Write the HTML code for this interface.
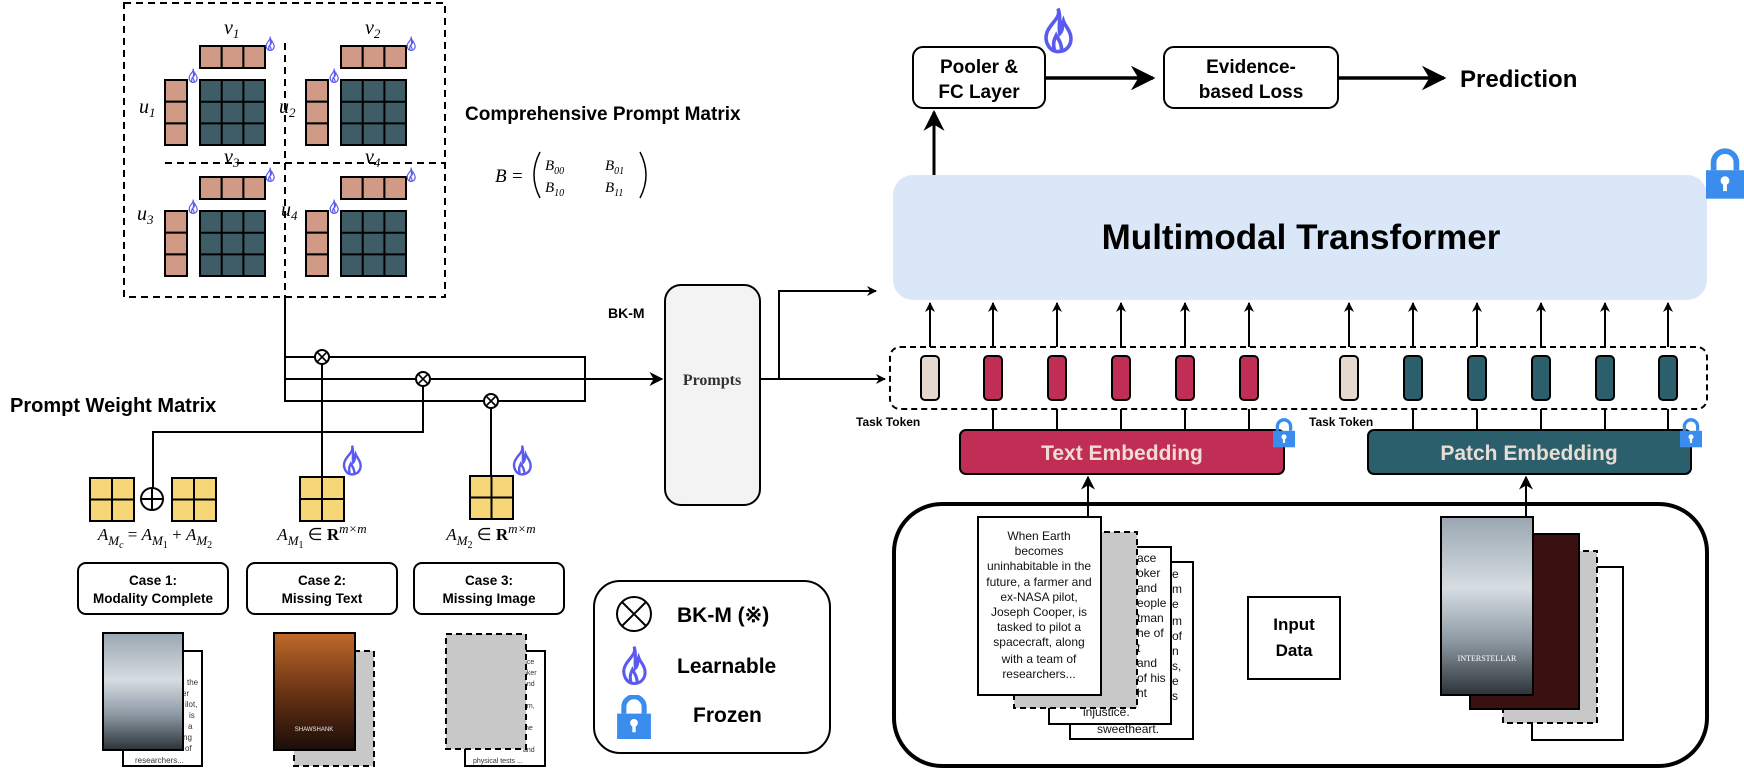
<!DOCTYPE html>
<html><head><meta charset="utf-8">
<style>
html,body{margin:0;padding:0;background:#fff;}
svg{display:block;}
text{font-family:"Liberation Sans",sans-serif;}
.b{font-weight:bold;}
text.s{font-family:"Liberation Serif",serif;}
text.m{font-family:"Liberation Serif",serif;font-style:italic;}
</style></head>
<body>
<svg width="1744" height="769" viewBox="0 0 1744 769" xmlns="http://www.w3.org/2000/svg">
<defs>
<symbol id="flame" viewBox="0 0 20 26">
<path d="M10 1 C12 6 6 9 4 14 C2 19 5 25 10 25 C15 25 18 21 17 16 C16 12 14 11 13 8 C12 11 13 13 11 15 C10 11 12 6 10 1 Z M8 24 C7 20 8 18 9 16 C10 18 12 20 12 24" fill="none" stroke="#5a5af0" stroke-width="2"/>
</symbol>
<symbol id="lock" viewBox="0 0 20 26">
<path d="M4 11 V7 A6 6 0 0 1 16 7 V11" fill="none" stroke="#3b8ded" stroke-width="3"/>
<rect x="0" y="11" width="20" height="15" fill="#3b8ded"/>
<circle cx="10" cy="16.5" r="2.3" fill="#fff"/>
<rect x="9" y="17" width="2" height="5" fill="#fff"/>
</symbol>
<marker id="ar" viewBox="0 0 10 10" refX="9" refY="5" markerWidth="7" markerHeight="7" orient="auto">
<path d="M0 0 L10 5 L0 10 L3 5 Z" fill="#000"/>
</marker>
<marker id="ars" viewBox="0 0 10 10" refX="9" refY="5" markerWidth="5" markerHeight="5" orient="auto">
<path d="M0 0 L10 5 L0 10 L3 5 Z" fill="#000"/>
</marker>
<linearGradient id="inter" x1="0" y1="0" x2="0" y2="1">
<stop offset="0" stop-color="#9aa6b0"/><stop offset="0.4" stop-color="#d6dde2"/><stop offset="0.7" stop-color="#8c98a2"/><stop offset="1" stop-color="#2c3238"/>
</linearGradient>
<linearGradient id="shaw" x1="0" y1="0" x2="0" y2="1">
<stop offset="0" stop-color="#c06a2a"/><stop offset="0.5" stop-color="#6b3415"/><stop offset="1" stop-color="#1a0d08"/>
</linearGradient>
</defs>

<!-- Comprehensive prompt matrix dashed box -->
<rect x="124" y="3" width="321" height="294" fill="none" stroke="#000" stroke-width="2" stroke-dasharray="7,5"/>
<line x1="285" y1="43" x2="285" y2="297" stroke="#000" stroke-width="2" stroke-dasharray="7,5"/>
<line x1="165" y1="163" x2="445" y2="163" stroke="#000" stroke-width="2" stroke-dasharray="7,5"/>

<g id="q">
<g stroke="#000" stroke-width="2">
<rect x="200" y="46" width="21.7" height="22" fill="#d09a86"/><rect x="221.7" y="46" width="21.7" height="22" fill="#d09a86"/><rect x="243.4" y="46" width="21.6" height="22" fill="#d09a86"/>
<rect x="165" y="80" width="22" height="21.7" fill="#d09a86"/><rect x="165" y="101.7" width="22" height="21.7" fill="#d09a86"/><rect x="165" y="123.4" width="22" height="21.6" fill="#d09a86"/>
<rect x="200" y="80" width="65" height="65" fill="#3f5d66"/>
<line x1="221.7" y1="80" x2="221.7" y2="145"/><line x1="243.4" y1="80" x2="243.4" y2="145"/>
<line x1="200" y1="101.7" x2="265" y2="101.7"/><line x1="200" y1="123.4" x2="265" y2="123.4"/>
</g>
<use href="#flame" x="264" y="36" width="12" height="15"/>
<use href="#flame" x="187" y="68" width="12" height="15"/>
</g>
<use href="#q" x="141" y="0"/>
<use href="#q" x="0" y="131"/>
<use href="#q" x="141" y="131"/>
<g>
<text class="m" font-size="20" x="224" y="34">v<tspan font-size="13" dy="4">1</tspan></text>
<text class="m" font-size="20" x="365" y="34">v<tspan font-size="13" dy="4">2</tspan></text>
<text class="m" font-size="20" x="224" y="163">v<tspan font-size="13" dy="4">3</tspan></text>
<text class="m" font-size="20" x="365" y="163">v<tspan font-size="13" dy="4">4</tspan></text>
<text class="m" font-size="20" x="139" y="113">u<tspan font-size="13" dy="4">1</tspan></text>
<text class="m" font-size="20" x="279" y="113">u<tspan font-size="13" dy="4">2</tspan></text>
<text class="m" font-size="20" x="137" y="220">u<tspan font-size="13" dy="4">3</tspan></text>
<text class="m" font-size="20" x="281" y="216">u<tspan font-size="13" dy="4">4</tspan></text>
</g>

<text x="465" y="120" class="b" font-size="19">Comprehensive Prompt Matrix</text>
<text x="495" y="182" class="m" font-size="19">B</text>
<text x="512" y="182" class="s" font-size="19">=</text>
<path d="M540 152 Q528 175 540 198" fill="none" stroke="#000" stroke-width="1.5"/>
<path d="M640 152 Q652 175 640 198" fill="none" stroke="#000" stroke-width="1.5"/>
<text x="545" y="170" class="m" font-size="15">B<tspan font-size="10" dy="4">00</tspan></text>
<text x="605" y="170" class="m" font-size="15">B<tspan font-size="10" dy="4">01</tspan></text>
<text x="545" y="192" class="m" font-size="15">B<tspan font-size="10" dy="4">10</tspan></text>
<text x="605" y="192" class="m" font-size="15">B<tspan font-size="10" dy="4">11</tspan></text>

<!-- BK-M lines -->
<g stroke="#000" stroke-width="2" fill="none">
<line x1="285" y1="297" x2="285" y2="401"/>
<rect x="285" y="357" width="300" height="44"/>
<line x1="285" y1="379" x2="662" y2="379" marker-end="url(#ar)"/>
<line x1="322" y1="357" x2="322" y2="477"/>
<polyline points="423,379 423,432 153,432 153,488"/>
<line x1="491" y1="401" x2="491" y2="476"/>
</g>
<g stroke="#000" stroke-width="2" fill="#fff">
<circle cx="322" cy="357" r="7"/><circle cx="423" cy="379" r="7"/><circle cx="491" cy="401" r="7"/>
</g>
<g stroke="#000" stroke-width="1.6">
<path d="M317 352 L327 362 M327 352 L317 362"/><path d="M418 374 L428 384 M428 374 L418 384"/><path d="M486 396 L496 406 M496 396 L486 406"/>
</g>
<text x="608" y="318" class="b" font-size="14">BK-M</text>

<!-- Prompts box -->
<rect x="665" y="285" width="95" height="220" rx="16" fill="#f3f3f3" stroke="#000" stroke-width="2"/>
<text x="712" y="385" text-anchor="middle" class="s" font-weight="bold" font-size="16" fill="#333">Prompts</text>
<g stroke="#000" stroke-width="2" fill="none">
<polyline points="760,379 779,379 779,291 876,291" marker-end="url(#ars)"/>
<line x1="779" y1="379" x2="885" y2="379" marker-end="url(#ars)"/>
</g>

<!-- Prompt weight matrix -->
<text x="10" y="412" class="b" font-size="20">Prompt Weight Matrix</text>
<g stroke="#000" stroke-width="2" fill="#f6d677">
<rect x="90" y="478" width="44" height="43"/><line x1="112" y1="478" x2="112" y2="521"/><line x1="90" y1="499.5" x2="134" y2="499.5"/>
<rect x="172" y="478" width="44" height="43"/><line x1="194" y1="478" x2="194" y2="521"/><line x1="172" y1="499.5" x2="216" y2="499.5"/>
<rect x="300" y="477" width="44" height="44"/><line x1="322" y1="477" x2="322" y2="521"/><line x1="300" y1="499" x2="344" y2="499"/>
<rect x="470" y="476" width="43" height="43"/><line x1="491.5" y1="476" x2="491.5" y2="519"/><line x1="470" y1="497.5" x2="513" y2="497.5"/>
</g>
<circle cx="152" cy="499" r="11" fill="#fff" stroke="#000" stroke-width="2"/>
<path d="M141 499 H163 M152 488 V510" stroke="#000" stroke-width="2"/>
<use href="#flame" x="340" y="444" width="24" height="32"/>
<use href="#flame" x="510" y="444" width="24" height="32"/>
<text x="155" y="540" text-anchor="middle" class="s" font-size="17"><tspan font-style="italic">A</tspan><tspan font-style="italic" font-size="13" dy="5">M</tspan><tspan font-style="italic" font-size="10" dy="3">c</tspan><tspan dy="-8"> = </tspan><tspan font-style="italic">A</tspan><tspan font-style="italic" font-size="13" dy="5">M</tspan><tspan font-size="10" dy="3">1</tspan><tspan dy="-8"> + </tspan><tspan font-style="italic">A</tspan><tspan font-style="italic" font-size="13" dy="5">M</tspan><tspan font-size="10" dy="3">2</tspan></text>
<text x="322" y="540" text-anchor="middle" class="s" font-size="17"><tspan font-style="italic">A</tspan><tspan font-style="italic" font-size="13" dy="5">M</tspan><tspan font-size="10" dy="3">1</tspan><tspan dy="-8"> ∈ </tspan><tspan font-weight="bold">R</tspan><tspan font-style="italic" font-size="13" dy="-7">m×m</tspan></text>
<text x="491" y="540" text-anchor="middle" class="s" font-size="17"><tspan font-style="italic">A</tspan><tspan font-style="italic" font-size="13" dy="5">M</tspan><tspan font-size="10" dy="3">2</tspan><tspan dy="-8"> ∈ </tspan><tspan font-weight="bold">R</tspan><tspan font-style="italic" font-size="13" dy="-7">m×m</tspan></text>

<!-- Case boxes -->
<g fill="#fff" stroke="#000" stroke-width="2">
<rect x="78" y="563" width="150" height="51" rx="8"/>
<rect x="247" y="563" width="150" height="51" rx="8"/>
<rect x="414" y="563" width="150" height="51" rx="8"/>
</g>
<g class="b" font-size="13.5" text-anchor="middle">
<text x="153" y="585">Case 1:</text><text x="153" y="603">Modality Complete</text>
<text x="322" y="585">Case 2:</text><text x="322" y="603">Missing Text</text>
<text x="489" y="585">Case 3:</text><text x="489" y="603">Missing Image</text>
</g>

<!-- posters bottom-left -->
<rect x="123" y="651" width="79" height="115" fill="#fff" stroke="#000" stroke-width="2"/>
<g font-size="8" fill="#333"><text x="187" y="685">the</text><text x="182" y="696">er</text><text x="185" y="707">ilot,</text><text x="189" y="718">is</text><text x="188" y="729">a</text><text x="183" y="740">ng</text><text x="185" y="751">of</text><text x="135" y="763">researchers...</text></g>
<rect x="103" y="633" width="80" height="117" fill="url(#inter)" stroke="#000" stroke-width="2"/>
<rect x="294" y="651" width="80" height="115" fill="#c8c8c8" stroke="#000" stroke-width="2" stroke-dasharray="6,4"/>
<rect x="274" y="633" width="81" height="117" fill="url(#shaw)" stroke="#000" stroke-width="2"/>
<text x="314" y="731" font-size="6" fill="#eee" text-anchor="middle">SHAWSHANK</text>
<rect x="465" y="651" width="80" height="115" fill="#fff" stroke="#000" stroke-width="2"/>
<g font-size="7" fill="#333"><text x="523" y="664">ace</text><text x="523" y="675">pker</text><text x="523" y="686">and</text><text x="523" y="708">am,</text><text x="523" y="730">the</text><text x="523" y="752">and</text><text x="473" y="763">physical tests ...</text></g>
<rect x="446" y="634" width="80" height="115" fill="#c8c8c8" stroke="#000" stroke-width="2" stroke-dasharray="6,4"/>

<!-- Legend -->
<rect x="594" y="581" width="236" height="172" rx="26" fill="#fff" stroke="#000" stroke-width="2"/>
<circle cx="634" cy="614" r="17" fill="#fff" stroke="#000" stroke-width="2"/>
<path d="M622 602 L646 626 M646 602 L622 626" stroke="#000" stroke-width="2"/>
<text x="677" y="622" class="b" font-size="21">BK-M (※)</text>
<use href="#flame" x="618" y="645" width="32" height="40"/>
<text x="677" y="673" class="b" font-size="21">Learnable</text>
<use href="#lock" x="617" y="695" width="34" height="44"/>
<text x="693" y="722" class="b" font-size="21">Frozen</text>

<!-- Right: top flow -->
<rect x="913" y="47" width="132" height="61" rx="10" fill="#fff" stroke="#000" stroke-width="2"/>
<text x="979" y="73" text-anchor="middle" class="b" font-size="19">Pooler &amp;</text>
<text x="979" y="98" text-anchor="middle" class="b" font-size="19">FC Layer</text>
<use href="#flame" x="1040" y="5" width="36" height="50"/>
<line x1="1045" y1="78" x2="1153" y2="78" stroke="#000" stroke-width="3.5" marker-end="url(#ar)"/>
<rect x="1164" y="47" width="174" height="61" rx="10" fill="#fff" stroke="#000" stroke-width="2"/>
<text x="1251" y="73" text-anchor="middle" class="b" font-size="19">Evidence-</text>
<text x="1251" y="98" text-anchor="middle" class="b" font-size="19">based Loss</text>
<line x1="1338" y1="78" x2="1444" y2="78" stroke="#000" stroke-width="3.5" marker-end="url(#ar)"/>
<text x="1460" y="87" class="b" font-size="24">Prediction</text>
<line x1="934" y1="175" x2="934" y2="112" stroke="#000" stroke-width="3" marker-end="url(#ar)"/>

<!-- transformer -->
<rect x="893" y="175" width="814" height="125" rx="20" fill="#dae7f8"/>
<text x="1301" y="249" text-anchor="middle" class="b" font-size="35">Multimodal Transformer</text>
<use href="#lock" x="1706" y="138" width="38" height="72"/>

<!-- tokens -->
<rect x="890" y="347" width="817" height="62" rx="10" fill="none" stroke="#000" stroke-width="2" stroke-dasharray="6,4"/>
<g stroke="#000" stroke-width="2" marker-end="url(#ars)">
<line x1="930" y1="347" x2="930" y2="303"/><line x1="993" y1="347" x2="993" y2="303"/><line x1="1057" y1="347" x2="1057" y2="303"/><line x1="1121" y1="347" x2="1121" y2="303"/><line x1="1185" y1="347" x2="1185" y2="303"/><line x1="1249" y1="347" x2="1249" y2="303"/>
<line x1="1349" y1="347" x2="1349" y2="303"/><line x1="1413" y1="347" x2="1413" y2="303"/><line x1="1477" y1="347" x2="1477" y2="303"/><line x1="1541" y1="347" x2="1541" y2="303"/><line x1="1605" y1="347" x2="1605" y2="303"/><line x1="1668" y1="347" x2="1668" y2="303"/>
</g>
<g stroke="#000" stroke-width="2">
<rect x="921" y="356" width="18" height="44" rx="4" fill="#e5d9cf"/>
<rect x="984" y="356" width="18" height="44" rx="4" fill="#c12e55"/>
<rect x="1048" y="356" width="18" height="44" rx="4" fill="#c12e55"/>
<rect x="1112" y="356" width="18" height="44" rx="4" fill="#c12e55"/>
<rect x="1176" y="356" width="18" height="44" rx="4" fill="#c12e55"/>
<rect x="1240" y="356" width="18" height="44" rx="4" fill="#c12e55"/>
<rect x="1340" y="356" width="18" height="44" rx="4" fill="#e5d9cf"/>
<rect x="1404" y="356" width="18" height="44" rx="4" fill="#2a5f6b"/>
<rect x="1468" y="356" width="18" height="44" rx="4" fill="#2a5f6b"/>
<rect x="1532" y="356" width="18" height="44" rx="4" fill="#2a5f6b"/>
<rect x="1596" y="356" width="18" height="44" rx="4" fill="#2a5f6b"/>
<rect x="1659" y="356" width="18" height="44" rx="4" fill="#2a5f6b"/>
<line x1="993" y1="409" x2="993" y2="430"/><line x1="1057" y1="409" x2="1057" y2="430"/><line x1="1121" y1="409" x2="1121" y2="430"/><line x1="1185" y1="409" x2="1185" y2="430"/><line x1="1249" y1="409" x2="1249" y2="430"/>
<line x1="1413" y1="409" x2="1413" y2="430"/><line x1="1477" y1="409" x2="1477" y2="430"/><line x1="1541" y1="409" x2="1541" y2="430"/><line x1="1605" y1="409" x2="1605" y2="430"/><line x1="1668" y1="409" x2="1668" y2="430"/>
</g>
<text x="856" y="426" class="b" font-size="12">Task Token</text>
<text x="1309" y="426" class="b" font-size="12">Task Token</text>

<rect x="960" y="430" width="324" height="44" rx="6" fill="#c12e55" stroke="#000" stroke-width="2"/>
<text x="1122" y="460" text-anchor="middle" class="b" font-size="21" fill="#f0dcd6">Text Embedding</text>
<rect x="1368" y="430" width="323" height="44" rx="6" fill="#2a5f6b" stroke="#000" stroke-width="2"/>
<text x="1529" y="460" text-anchor="middle" class="b" font-size="21" fill="#e8ddd4">Patch Embedding</text>
<use href="#lock" x="1273" y="418" width="22" height="30"/>
<use href="#lock" x="1680" y="418" width="22" height="30"/>

<!-- input data -->
<rect x="894" y="504" width="813" height="262" rx="48" fill="none" stroke="#000" stroke-width="4"/>
<line x1="1088" y1="518" x2="1088" y2="477" stroke="#000" stroke-width="2" marker-end="url(#ar)"/>
<line x1="1526" y1="517" x2="1526" y2="477" stroke="#000" stroke-width="2" marker-end="url(#ar)"/>

<rect x="1070" y="562" width="123" height="177" fill="#fff" stroke="#000" stroke-width="2"/>
<g font-size="12" fill="#111"><text x="1172" y="578">e</text><text x="1172" y="593">m</text><text x="1172" y="608">e</text><text x="1172" y="625">m</text><text x="1172" y="640">of</text><text x="1172" y="655">n</text><text x="1172" y="670">s,</text><text x="1172" y="685">e</text><text x="1172" y="700">s</text><text x="1097" y="733">sweetheart.</text></g>
<rect x="1049" y="547" width="122" height="177" fill="#fff" stroke="#000" stroke-width="2"/>
<g font-size="12" fill="#111"><text x="1137" y="562">ace</text><text x="1137" y="577">oker</text><text x="1137" y="592">and</text><text x="1137" y="607">eople</text><text x="1137" y="622">tman</text><text x="1137" y="637">he of</text><text x="1137" y="652">t</text><text x="1137" y="667">and</text><text x="1137" y="682">of his</text><text x="1137" y="697">ht</text><text x="1083" y="716">injustice.</text></g>
<rect x="1014" y="532" width="123" height="176" fill="#c8c8c8" stroke="#000" stroke-width="2" stroke-dasharray="6,4"/>
<rect x="978" y="517" width="123" height="178" fill="#fff" stroke="#000" stroke-width="2"/>
<g font-size="12" fill="#111" text-anchor="middle">
<text x="1039" y="540">When Earth</text><text x="1039" y="555">becomes</text><text x="1039" y="570">uninhabitable in the</text><text x="1039" y="586">future, a farmer and</text><text x="1039" y="601">ex-NASA pilot,</text><text x="1039" y="616">Joseph Cooper, is</text><text x="1039" y="631">tasked to pilot a</text><text x="1039" y="646">spacecraft, along</text><text x="1039" y="663">with a team of</text><text x="1039" y="678">researchers...</text>
</g>

<rect x="1248" y="597" width="92" height="82" fill="#fff" stroke="#000" stroke-width="2"/>
<text x="1294" y="630" text-anchor="middle" class="b" font-size="17">Input</text>
<text x="1294" y="656" text-anchor="middle" class="b" font-size="17">Data</text>

<rect x="1532" y="567" width="91" height="173" fill="#fff" stroke="#000" stroke-width="2"/>
<rect x="1503" y="551" width="94" height="172" fill="#c8c8c8" stroke="#000" stroke-width="2" stroke-dasharray="6,4"/>
<rect x="1470" y="534" width="109" height="175" fill="#3a1010" stroke="#000" stroke-width="2"/>
<rect x="1441" y="517" width="92" height="178" fill="url(#inter)" stroke="#000" stroke-width="2"/>
<text x="1487" y="661" text-anchor="middle" font-size="8" fill="#fff" class="s">INTERSTELLAR</text>
</svg>
</body></html>
